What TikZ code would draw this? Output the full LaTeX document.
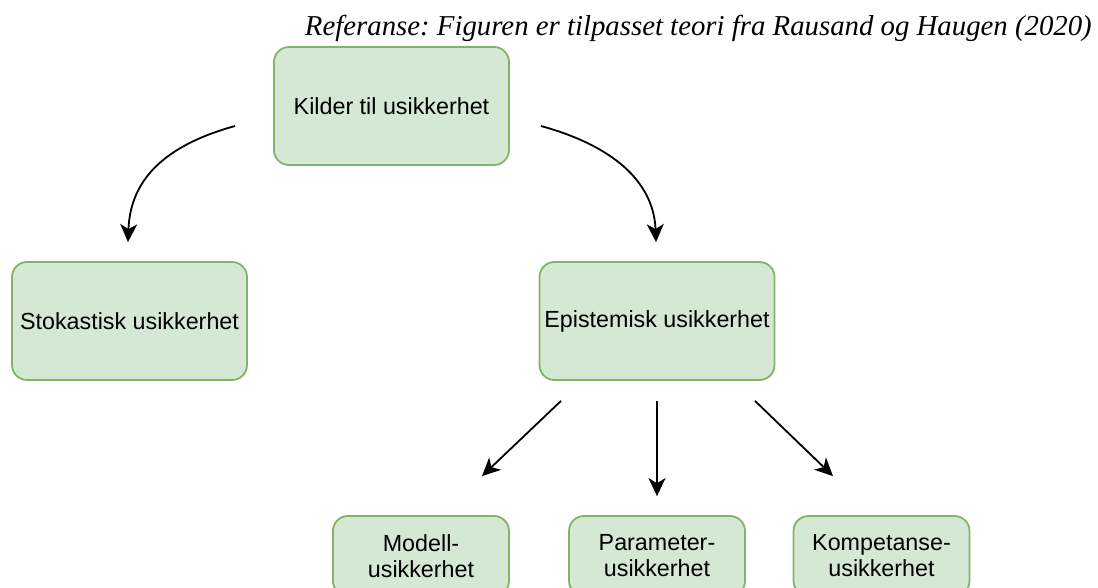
\documentclass[tikz,border=0pt]{standalone}
\usepackage{fontspec}
\setmainfont{Liberation Sans}
\newfontfamily\titlefont{Liberation Serif}
\usetikzlibrary{arrows.meta,calc}
\definecolor{boxfill}{HTML}{D5E8D4}
\definecolor{boxline}{HTML}{82B366}
\frenchspacing
\tikzset{
  box/.style={draw=boxline, fill=boxfill, line width=1.8pt, rounded corners=15pt,
    align=center, inner sep=0pt, font=\fontsize{23.3}{26}\selectfont},
  bigbox/.style={box, minimum width=235pt, minimum height=118pt},
  smallbox/.style={box, minimum width=176pt, minimum height=80pt},
  link/.style={line width=1.8pt, -{Stealth[length=18pt,width=17pt,inset=5pt]}},
}
\begin{document}
\begin{tikzpicture}[x=1pt,y=-1pt]
\useasboundingbox (0,0) rectangle (1098,588);
\clip (0,0) rectangle (1098,588);

% reference line
\node[anchor=base east, inner sep=0pt, font=\titlefont\itshape\fontsize{28.8}{32}\selectfont]
  (ref) at (1092,36) {Referanse: Figuren er tilpasset teori fra Rausand og Haugen (2020)};

% boxes
\node[bigbox] (src)  at (391.5,106) {Kilder til usikkerhet};
\node[bigbox] (stok) at (129.5,321) {Stokastisk usikkerhet};
\node[bigbox] (epi)  at (657,321)   {Epistemisk usikkerhet};
\node[smallbox] (modell) at (421,556)   {Modell-\\usikkerhet};
\node[smallbox] (param)  at (657,556)   {Parameter-\\usikkerhet};
\node[smallbox] (komp)   at (881.5,556) {Kompetanse-\\usikkerhet};

% connector end points
\coordinate (s1) at ($(src.west)+(-38,20)$);
\coordinate (t1) at ($(stok.north)+(-1.5,-19)$);
\coordinate (s2) at ($(src.east)+(31,20)$);
\coordinate (t2) at ($(epi.north)+(-1,-19)$);
\coordinate (e1) at ($(epi.south)+(-96,20)$);
\coordinate (m1) at ($(modell.north)+(61,-39)$);
\coordinate (e2) at ($(epi.south)+(0,20)$);
\coordinate (p1) at ($(param.north)+(0,-19)$);
\coordinate (e3) at ($(epi.south)+(98,20)$);
\coordinate (k1) at ($(komp.north)+(-48.5,-39)$);

% connectors
\draw[link] (s1) .. controls ($(s1)+(-80,22)$) and ($(t1)+(2,-55)$) .. (t1);
\draw[link] (s2) .. controls ($(s2)+(80,22)$) and ($(t2)+(-2,-55)$) .. (t2);
\draw[link] (e1) -- (m1);
\draw[link] (e2) -- (p1);
\draw[link] (e3) -- (k1);
\end{tikzpicture}
\end{document}
